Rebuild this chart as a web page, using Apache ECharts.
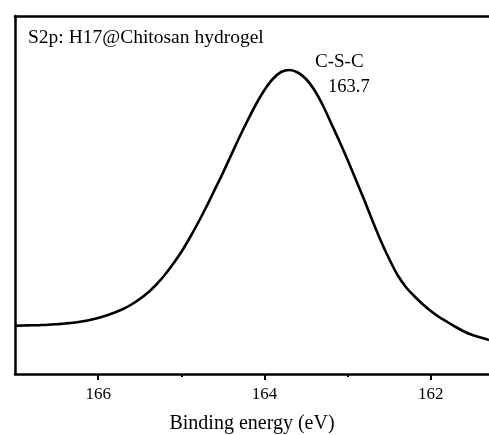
<!DOCTYPE html>
<html>
<head>
<meta charset="utf-8">
<script src="https://cdn.jsdelivr.net/npm/echarts@6/dist/echarts.min.js"></script>
<style>
html,body{margin:0;padding:0;background:#fff;}
#chart{width:489px;height:435px;}
</style>
</head>
<body>
<div id="chart"></div>
<script>
// Binding energy (eV) and intensity (a.u.)
var energy = [167.0,166.9,166.8,166.7,166.6,166.5,166.4,166.3,166.2,166.1,166.0,165.9,165.8,165.7,165.6,165.5,165.4,165.3,165.2,165.1,165.0,164.9,164.8,164.7,164.6,164.5,164.4,164.3,164.2,164.1,164.0,163.9,163.8,163.7,163.6,163.5,163.4,163.3,163.2,163.1,163.0,162.9,162.8,162.7,162.6,162.5,162.4,162.3,162.2,162.1,162.0,161.9,161.8,161.7,161.6,161.5,161.4,161.3];
var intensity = [48.3,48.5,48.7,48.9,49.2,49.8,50.5,51.3,52.5,54,56,58.5,61.5,65,69.5,75,81.5,89.5,99,110,122,136,151,167,184,201,219,237,254,270,284,295,302,304,301.5,295,284,269,251,233,214,194,174,153,133,115,99,87,78,70,63,57,52,47,42.5,39,36.5,34];
var majorTicks = [162,164,166];
var minorTicks = [163,165];
var panelLabel = 'S2p: H17@Chitosan hydrogel';
var peakName = 'C-S-C';
var peakPos = '163.7';
var xTitle = 'Binding energy (eV)';

var FONT = '"Liberation Serif","DejaVu Serif",serif';
var data = energy.map(function(e,i){return [e,intensity[i]];});
var chart = echarts.init(document.getElementById('chart'));
var xMin = 161.3, xMax = 167.0;
chart.setOption({
  animation:false,
  backgroundColor:'#fff',
  grid:{left:15,right:0,top:16,bottom:61,containLabel:false,outerBoundsMode:'none'},
  xAxis:[{
    type:'value',inverse:true,min:xMin,max:xMax,position:'bottom',
    axisLine:{show:true,lineStyle:{color:'#000',width:2.5}},
    axisTick:{show:true,inside:false,length:6,lineStyle:{color:'#000',width:2},customValues:majorTicks},
    axisLabel:{show:true,color:'#000',fontFamily:FONT,fontSize:17,margin:12,customValues:majorTicks},
    splitLine:{show:false},
    name:xTitle,nameLocation:'middle',nameGap:40,
    nameTextStyle:{color:'#000',fontFamily:FONT,fontSize:20}
  },{
    type:'value',inverse:true,min:xMin,max:xMax,position:'bottom',
    axisLine:{show:false},
    axisTick:{show:true,inside:false,length:3,lineStyle:{color:'#000',width:2},customValues:minorTicks},
    axisLabel:{show:false},splitLine:{show:false}
  },{
    type:'value',inverse:true,min:xMin,max:xMax,position:'top',
    axisLine:{show:true,lineStyle:{color:'#000',width:2.5}},
    axisTick:{show:false},axisLabel:{show:false},splitLine:{show:false}
  }],
  yAxis:{
    type:'value',min:0,max:358,
    axisLine:{show:true,lineStyle:{color:'#000',width:2.5}},
    axisTick:{show:false},axisLabel:{show:false},splitLine:{show:false}
  },
  series:[{
    type:'line',data:data,smooth:0.3,showSymbol:false,
    lineStyle:{color:'#000',width:2.6},
    xAxisIndex:0
  }],
  graphic:[
    {type:'text',left:28,top:28,style:{text:panelLabel,fill:'#000',font:'19.5px '+FONT}},
    {type:'text',left:315,top:53,style:{text:peakName,fill:'#000',font:'19px '+FONT}},
    {type:'text',left:328,top:78,style:{text:peakPos,fill:'#000',font:'18.5px '+FONT}}
  ]
});
</script>
</body>
</html>
